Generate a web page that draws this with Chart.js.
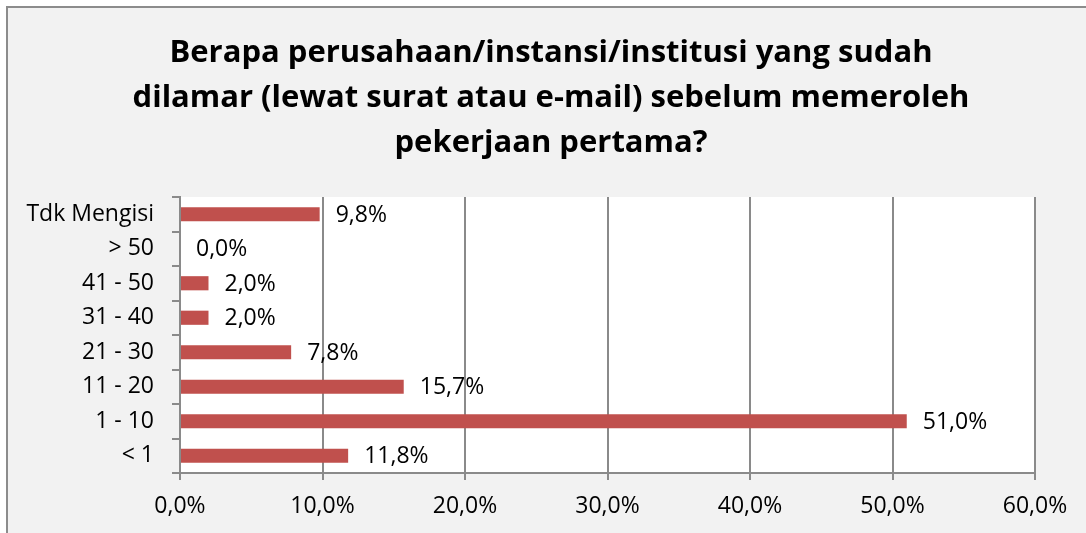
<!DOCTYPE html>
<html>
<head>
<meta charset="utf-8">
<script src="https://cdn.jsdelivr.net/npm/chart.js@4.4.1/dist/chart.umd.min.js"></script>
<style>
    html, body { margin: 0; padding: 0; background: #fff; overflow: hidden; }
    #box {
        position: absolute;
        left: 6px;
        top: 6px;
        width: 1100px;
        height: 560px;
        background: #f2f2f2;
        border-top: 2px solid #8c8c8c;
        border-left: 2px solid #8c8c8c;
    }
    #chart { position: absolute; left: 0; top: 0; }
</style>
</head>
<body>
<div id="box">
    <canvas id="chart" width="1086" height="540"></canvas>
</div>
<script>
// Data (top to bottom)
const categories = ['Tdk Mengisi', '> 50', '41 - 50', '31 - 40', '21 - 30', '11 - 20', '1 - 10', '< 1'];
const percentages = [9.8, 0.0, 2.0, 2.0, 7.8, 15.7, 51.0, 11.8];
const xTicks = [0, 10, 20, 30, 40, 50, 60];
const titleLines = [
    'Berapa perusahaan/instansi/institusi yang sudah',
    'dilamar (lewat surat atau e-mail) sebelum memeroleh',
    'pekerjaan pertama?'
];

const fmt = v => v.toFixed(1).replace('.', ',') + '%';
const FONT = "'Open Sans', 'Noto Sans', sans-serif";

// white plot area
const plotBackground = {
    id: 'plotBackground',
    beforeDraw(chart) {
        const { ctx, chartArea } = chart;
        ctx.save();
        ctx.fillStyle = '#ffffff';
        ctx.fillRect(chartArea.left, chartArea.top, chartArea.right - chartArea.left, chartArea.bottom - chartArea.top);
        ctx.restore();
    }
};

// title centred on the whole chart box
const boxTitle = {
    id: 'boxTitle',
    afterDraw(chart) {
        const { ctx } = chart;
        ctx.save();
        ctx.font = `bold 31px ${FONT}`;
        ctx.fillStyle = '#000';
        ctx.textAlign = 'center';
        ctx.textBaseline = 'alphabetic';
        titleLines.forEach((line, i) => {
            ctx.fillText(line, chart.width / 2, 54 + i * 45);
        });
        ctx.restore();
    }
};

// value labels to the right of each bar
const valueLabels = {
    id: 'valueLabels',
    afterDatasetsDraw(chart) {
        const { ctx } = chart;
        const meta = chart.getDatasetMeta(0);
        ctx.save();
        ctx.font = `23px ${FONT}`;
        ctx.fillStyle = '#000';
        ctx.textAlign = 'left';
        ctx.textBaseline = 'middle';
        meta.data.forEach((bar, i) => {
            ctx.fillText(fmt(percentages[i]), bar.x + 16, bar.y + 1);
        });
        ctx.restore();
    }
};

const ctx = document.getElementById('chart').getContext('2d');
new Chart(ctx, {
    type: 'bar',
    data: {
        labels: categories,
        datasets: [{
            data: percentages,
            backgroundColor: '#C0504D',
            borderWidth: 0,
            barPercentage: 0.41,
            categoryPercentage: 1
        }]
    },
    options: {
        indexAxis: 'y',
        responsive: false,
        animation: false,
        layout: {
            padding: { left: 0, right: 59, top: 189, bottom: 25 }
        },
        plugins: {
            legend: { display: false },
            tooltip: { enabled: false },
            title: { display: false }
        },
        scales: {
            x: {
                min: 0,
                max: 60,
                afterBuildTicks: scale => {
                    scale.ticks = xTicks.map(v => ({ value: v }));
                },
                afterFit: scale => { scale.height = 50; },
                ticks: {
                    color: '#000',
                    font: { family: FONT, size: 23 },
                    padding: 13,
                    callback: v => fmt(v)
                },
                grid: {
                    color: '#8a8a8a',
                    lineWidth: 2,
                    tickLength: 7,
                    drawTicks: true
                },
                border: { color: '#8a8a8a', width: 2 }
            },
            y: {
                afterFit: scale => { scale.width = 172; },
                ticks: {
                    color: '#000',
                    font: { family: FONT, size: 23 },
                    padding: 18
                },
                grid: {
                    drawOnChartArea: false,
                    color: '#8a8a8a',
                    lineWidth: 2,
                    tickLength: 8
                },
                border: { color: '#8a8a8a', width: 2 }
            }
        }
    },
    plugins: [plotBackground, valueLabels, boxTitle]
});
</script>
</body>
</html>
